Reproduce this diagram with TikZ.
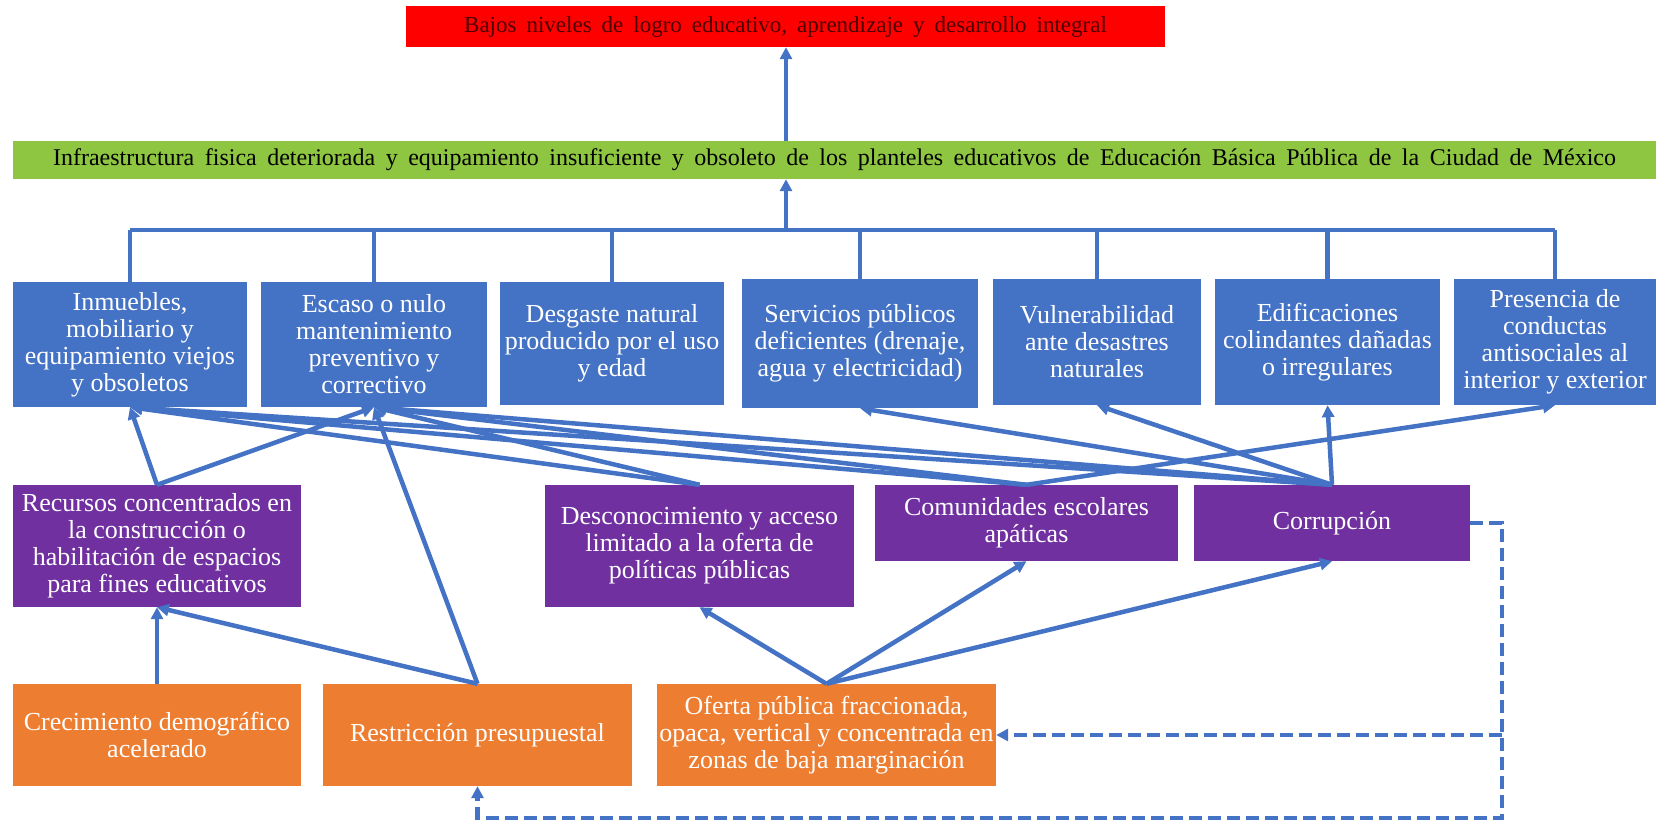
\documentclass[tikz,border=0pt]{standalone}
\usepackage{fontspec}
\setmainfont{Liberation Serif}
\usepackage{tikz}
\usetikzlibrary{arrows.meta}

\definecolor{logrored}{HTML}{FF0000}
\definecolor{logrotext}{HTML}{4A0000}
\definecolor{infragreen}{HTML}{8EC641}
\definecolor{causeblue}{HTML}{4472C4}
\definecolor{causepurple}{HTML}{7030A0}
\definecolor{causeorange}{HTML}{ED7D31}
\definecolor{linkblue}{HTML}{4472C4}

\begin{document}
\begin{tikzpicture}[x=1pt,y=-1pt,
	box/.style={inner sep=0pt, align=center, text=white, font=\fontsize{26}{27}\selectfont},
	bluebox/.style={box, fill=causeblue},
	purplebox/.style={box, fill=causepurple},
	orangebox/.style={box, fill=causeorange},
	busline/.style={line width=4.5pt, draw=linkblue},
	link/.style={busline, -{Triangle[length=12pt,width=12pt]}},
	feedback/.style={link, dash pattern=on 13pt off 6pt}
	]
	\useasboundingbox (0,0) rectangle (1670,823);

	% Top problem
	\node[inner sep=0pt, fill=logrored, text=logrotext, font=\fontsize{23}{25}\selectfont\spaceskip 10pt\relax,
		minimum width=759pt, minimum height=41pt] (logro) at (785.5,26.5)
		{Bajos niveles de logro educativo, aprendizaje y desarrollo integral};
	\node[inner sep=0pt, fill=infragreen, text=black, font=\fontsize{24}{26}\selectfont\spaceskip 10.5pt\relax,
		minimum width=1643pt, minimum height=38pt] (infra) at (834.5,160)
		{Infraestructura fisica deteriorada y equipamiento insuficiente y obsoleto de los planteles educativos de Educación Básica Pública de la Ciudad de México};

	% Direct causes
	\node[bluebox, minimum width=234pt, minimum height=125pt] (inm) at (130,344.5) {Inmuebles,\\mobiliario y\\equipamiento viejos\\y obsoletos};
	\node[bluebox, minimum width=226pt, minimum height=125pt] (esc) at (374,344.5) {Escaso o nulo\\mantenimiento\\preventivo y\\correctivo};
	\node[bluebox, minimum width=224pt, minimum height=123pt] (desg) at (612,343.5) {Desgaste natural\\producido por el uso\\y edad};
	\node[bluebox, minimum width=236pt, minimum height=129pt] (ser) at (860,343.5) {Servicios públicos\\deficientes (drenaje,\\agua y electricidad)};
	\node[bluebox, minimum width=208pt, minimum height=126pt] (vul) at (1097,342) {Vulnerabilidad\\ante desastres\\naturales};
	\node[bluebox, minimum width=225pt, minimum height=126pt] (edi) at (1327.5,342) {Edificaciones\\colindantes dañadas\\o irregulares};
	\node[bluebox, minimum width=202pt, minimum height=126pt] (pre) at (1555,342) {Presencia de\\conductas\\antisociales al\\interior y exterior};

	% Second level
	\node[purplebox, minimum width=288pt, minimum height=122pt] (rec) at (157,546) {Recursos concentrados en\\la construcción o\\habilitación de espacios\\para fines educativos};
	\node[purplebox, minimum width=309pt, minimum height=122pt] (desc) at (699.5,546) {Desconocimiento y acceso\\limitado a la oferta de\\políticas públicas};
	\node[purplebox, minimum width=303pt, minimum height=76pt] (com) at (1026.5,523) {Comunidades escolares\\apáticas};
	\node[purplebox, minimum width=276pt, minimum height=76pt] (cor) at (1332,523) {Corrupción};

	% Root causes
	\node[orangebox, minimum width=288pt, minimum height=102pt] (cre) at (157,735) {Crecimiento demográfico\\acelerado};
	\node[orangebox, minimum width=309pt, minimum height=102pt] (rst) at (477.5,735) {Restricción presupuestal};
	\node[orangebox, minimum width=339pt, minimum height=102pt] (ofe) at (826.5,735) {Oferta pública fraccionada,\\opaca, vertical y concentrada en\\zonas de baja marginación};

	% Bus to the green box
	\coordinate (bus) at (786,230);
	\draw[busline] (inm.north |- bus) -- (pre.north |- bus);
	\foreach \n in {inm,esc,desg,ser,vul,edi,pre}
		\draw[busline] (\n.north) -- (\n.north |- bus);
	\draw[link] (bus) -- (bus |- infra.south);
	\draw[link] (bus |- infra.north) -- (bus |- logro.south);

	% Cause arrows
	\foreach \s/\t in {rec/inm, rec/esc, cre/rec, rst/rec, rst/esc,
		desc/inm, desc/esc, com/inm, com/esc, com/pre,
		cor/inm, cor/esc, cor/ser, cor/vul, cor/edi,
		ofe/desc, ofe/com, ofe/cor}
		\draw[link] (\s.north) -- (\t.south);

	% Feedback loop
	\coordinate (turn) at (1502,818);
	\draw[feedback] (cor.east) -- (cor.east -| turn) -- (turn) -- (turn -| rst.south) -- (rst.south);
	\draw[feedback] (ofe.east -| turn) -- (ofe.east);
\end{tikzpicture}
\end{document}
